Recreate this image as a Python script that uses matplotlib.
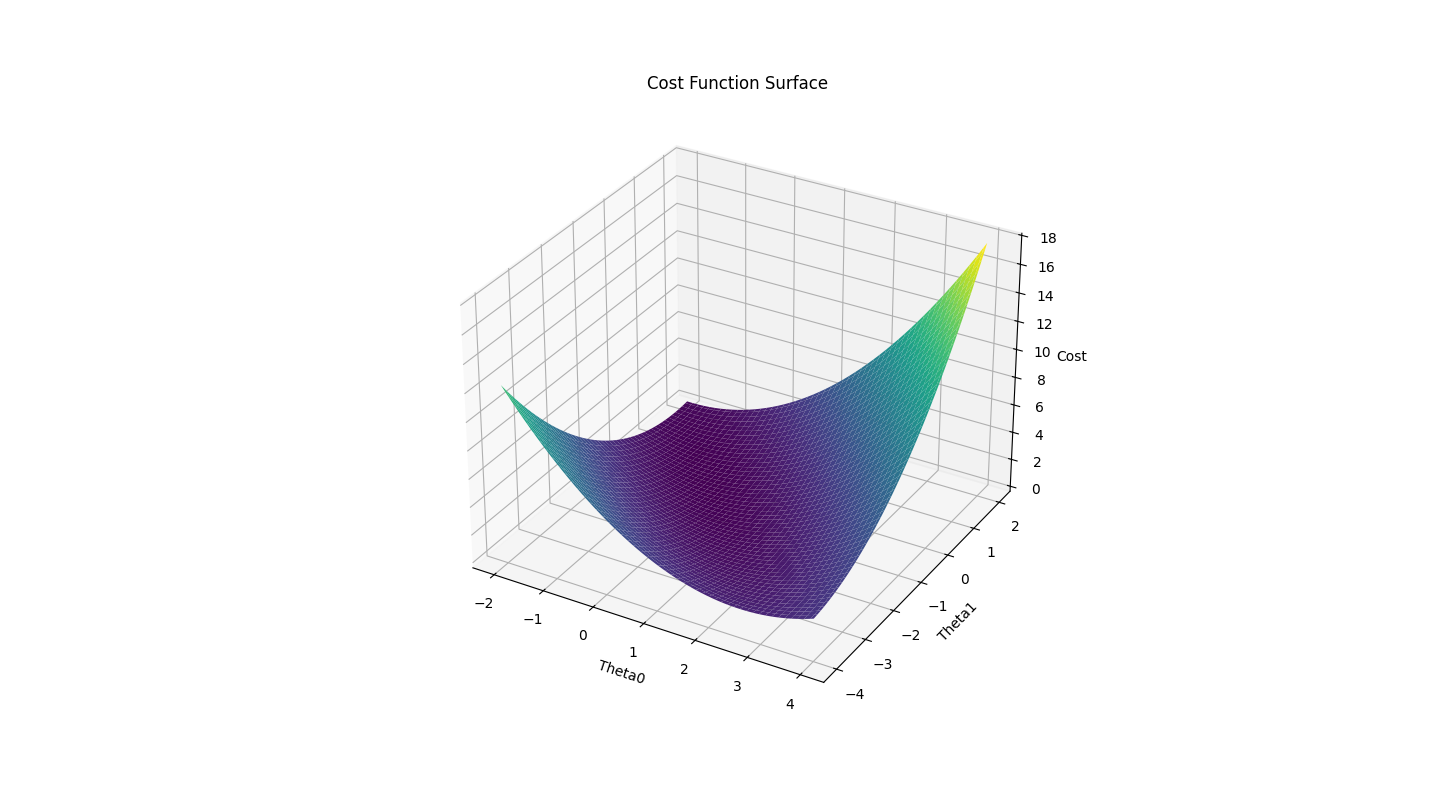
import numpy as np
import matplotlib
matplotlib.use("Agg")
import matplotlib.pyplot as plt

# small training set behind the cost surface
x_data = np.array([0.2, 0.75, 1.3])
y_data = np.array([-0.5, -0.3, -0.4])

theta0_vals = np.linspace(-2, 4, 100)
theta1_vals = np.linspace(-4, 2, 100)

T0, T1 = np.meshgrid(theta0_vals, theta1_vals)
m = len(x_data)
J = np.zeros_like(T0)
for xi, yi in zip(x_data, y_data):
    J += (T0 + T1 * xi - yi) ** 2
J /= (2 * m)

fig = plt.figure(figsize=(14.4, 8.11), dpi=100)
ax = fig.add_subplot(111, projection='3d')
ax.plot_surface(T0, T1, J, cmap='viridis')
ax.set_xlabel('Theta0')
ax.set_ylabel('Theta1')
ax.set_zlabel('Cost')
ax.set_title('Cost Function Surface')
fig.savefig('out.png', dpi=100)
